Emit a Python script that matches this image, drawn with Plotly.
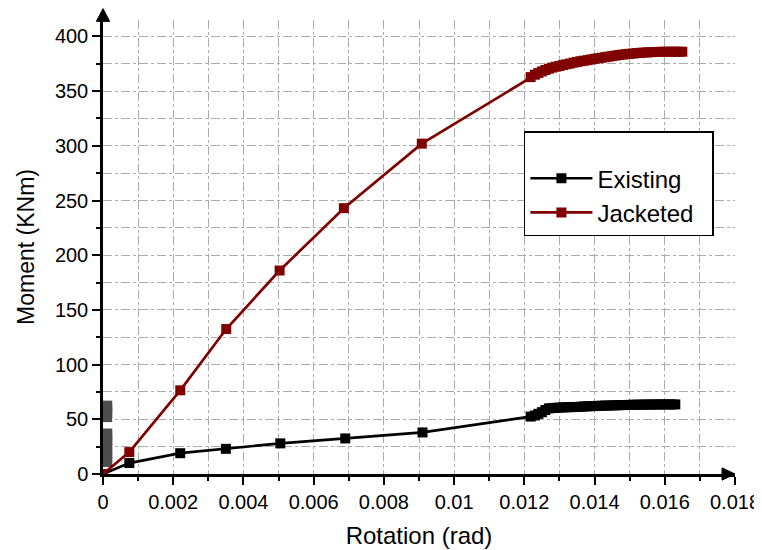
import plotly.graph_objects as go

# ---- data ----
jacketed_x = [0, 0.00075, 0.0022, 0.00351, 0.00503, 0.00686, 0.00908, 0.01218,
              0.0123, 0.0124, 0.0125, 0.0126, 0.0127, 0.0128, 0.0129, 0.0130,
              0.0131, 0.0132, 0.0133, 0.0134, 0.0135, 0.0136, 0.0137, 0.0138,
              0.0139, 0.0140, 0.0141, 0.0142, 0.0143, 0.0144, 0.0145, 0.0146,
              0.0147, 0.0148, 0.0149, 0.0150, 0.0151, 0.0152, 0.0153, 0.0154,
              0.0155, 0.0156, 0.0157, 0.0158, 0.0159, 0.0160, 0.0161, 0.0162,
              0.0163, 0.0164, 0.0165]
jacketed_y = [0, 20, 76.5, 132.5, 186, 243, 302, 362.8,
              365, 366.5, 368, 369.3, 370.5, 371.5, 372.3, 373,
              373.8, 374.5, 375.2, 376, 376.7, 377.3, 377.8, 378.3,
              378.9, 379.5, 380, 380.5, 381, 381.5, 382, 382.5,
              383, 383.4, 383.8, 384.1, 384.4, 384.7, 385, 385.2,
              385.4, 385.6, 385.7, 385.8, 385.9, 386, 386, 386,
              386, 386, 386]

existing_x = [0, 0.00075, 0.0022, 0.0035, 0.00505, 0.0069, 0.0091, 0.01218,
              0.0123, 0.0124, 0.0125, 0.0126, 0.0127, 0.0128, 0.0129, 0.0130,
              0.0131, 0.0132, 0.0133, 0.0134, 0.0135, 0.0136, 0.0137, 0.0138,
              0.0139, 0.0140, 0.0141, 0.0142, 0.0143, 0.0144, 0.0145, 0.0146,
              0.0147, 0.0148, 0.0149, 0.0150, 0.0151, 0.0152, 0.0153, 0.0154,
              0.0155, 0.0156, 0.0157, 0.0158, 0.0159, 0.0160, 0.0161, 0.0162,
              0.0163]
existing_y = [0, 10, 19, 23, 28, 32.5, 38, 52.5,
              53.5, 55, 56.5, 58.5, 60, 60.3, 60.5, 60.7,
              60.9, 61, 61.1, 61.2, 61.3, 61.5, 61.7, 61.9,
              62, 62.1, 62.3, 62.4, 62.5, 62.6, 62.7, 62.8,
              62.9, 63, 63.1, 63.2, 63.3, 63.3, 63.4, 63.4,
              63.5, 63.5, 63.5, 63.6, 63.6, 63.6, 63.6, 63.6,
              63.6]

elastic_x = [0.00012, 0.00012, 0.00012, 0.00012, 0.00012, 0.00012, 0.00012,
             0.00012, 0.00012, 0.00012, 0.00012, 0.00012]
elastic_y = [11, 15, 19, 23, 27, 31, 35, 37, 52, 56, 60, 62.5]

series_names = ["Existing", "Jacketed"]

x_range = [0, 0.018]
y_range = [0, 415]

FONT = "Liberation Sans, Arial, sans-serif"
GRID = "#ababab"
PAD = "\u00a0\u00a0"  # widens the legend box to the reference's width

fig = go.Figure()

fig.add_trace(go.Scatter(
    x=elastic_x, y=elastic_y, mode="markers", showlegend=False,
    marker=dict(symbol="square", size=10, color="#4d4d4d"),
    hoverinfo="skip"))

fig.add_trace(go.Scatter(
    x=existing_x, y=existing_y, mode="lines+markers", name=series_names[0] + PAD,
    line=dict(color="black", width=2.7),
    marker=dict(symbol="square", size=10, color="black")))

fig.add_trace(go.Scatter(
    x=jacketed_x, y=jacketed_y, mode="lines+markers", name=series_names[1] + PAD,
    line=dict(color="#800000", width=2.7),
    marker=dict(symbol="square", size=10, color="#800000")))

fig.update_xaxes(
    range=x_range, dtick=0.002, tick0=0, tickformat="~g", automargin=False,
    showline=True, linecolor="black", linewidth=2.5,
    ticks="outside", ticklen=8, tickwidth=2, tickcolor="black",
    showgrid=True, gridcolor=GRID, gridwidth=1, griddash="dashdot",
    zeroline=False,
    minor=dict(dtick=0.001, ticks="outside", ticklen=4, tickwidth=2, tickcolor="black",
               showgrid=True, gridcolor=GRID, gridwidth=1, griddash="dashdot"),
    tickfont=dict(family=FONT, size=20, color="black"),
    title=dict(text="Rotation (rad)", font=dict(family=FONT, size=24, color="black"), standoff=16),
)
fig.update_yaxes(
    range=y_range, dtick=50, tick0=0, automargin=False,
    showline=True, linecolor="black", linewidth=2.5,
    ticks="outside", ticklen=8, tickwidth=2, tickcolor="black",
    showgrid=True, gridcolor=GRID, gridwidth=1, griddash="dashdot",
    zeroline=False,
    minor=dict(dtick=25, ticks="outside", ticklen=4, tickwidth=2, tickcolor="black",
               showgrid=True, gridcolor=GRID, gridwidth=1, griddash="dashdot"),
    tickfont=dict(family=FONT, size=20, color="black"),
    title=dict(text="Moment (KNm)", font=dict(family=FONT, size=23, color="black"), standoff=14),
)

# arrowheads at the ends of the axes
fig.add_shape(type="path", xref="paper", yref="paper",
              path="M 0.9795 -0.0135 L 1.0 0 L 0.9795 0.0135 Z",
              fillcolor="black", line=dict(color="black", width=1), layer="above")
fig.add_shape(type="path", xref="paper", yref="paper",
              path="M -0.0105 0.997 L 0 1.025 L 0.0105 0.997 Z",
              fillcolor="black", line=dict(color="black", width=1), layer="above")

# the page adds an 8 px body margin, so the figure is 8 px smaller than the window
fig.update_layout(
    width=754, height=542,
    margin=dict(l=95, r=27, t=12, b=76, autoexpand=False),
    paper_bgcolor="white", plot_bgcolor="white",
    font=dict(family=FONT, color="black"),
    legend=dict(
        x=0.666, y=0.755, xanchor="left", yanchor="top",
        bgcolor="white", bordercolor="black", borderwidth=1.5,
        font=dict(family=FONT, size=24, color="black"),
        title=dict(text=" ", font=dict(size=18)),
        itemwidth=62, tracegroupgap=0,
    ),
)

fig.write_html("out.html")
